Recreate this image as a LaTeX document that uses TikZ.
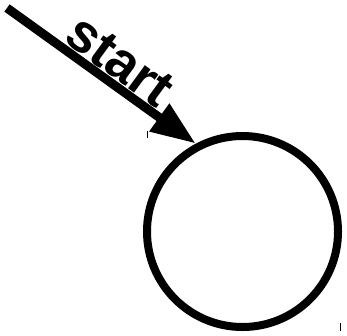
\documentclass[tikz,border=0pt]{standalone}
\usepackage{fontspec}
\setmainfont{Liberation Sans}
\usetikzlibrary{arrows.meta}
\begin{document}
\begin{tikzpicture}[x=1pt,y=-1pt,
  state/.style={circle,draw=black,line width=8pt,minimum size=191pt,inner sep=0pt},
  startarrow/.style={line width=9pt,-{Triangle[length=45pt,width=32pt]}},
  lbl/.style={font=\bfseries\fontsize{54}{54}\selectfont,rotate=-36.2,inner sep=0pt},
  tick/.style={line width=0.8pt}]
\useasboundingbox (0,0) rectangle (347,335);
\node[state] (q) at (242.5,231.5) {};
\coordinate (s) at (7,8);
\draw[startarrow] (s) -- (q.118.3);
\node[lbl] (t) at (120,61) {start};
\coordinate (a1) at (147.5,131);
\coordinate (a2) at (147.5,138);
\coordinate (b1) at (340,323);
\coordinate (b2) at (340,331);
\draw[tick] (a1) -- (a2);
\draw[tick] (b1) -- (b2);
\end{tikzpicture}
\end{document}
